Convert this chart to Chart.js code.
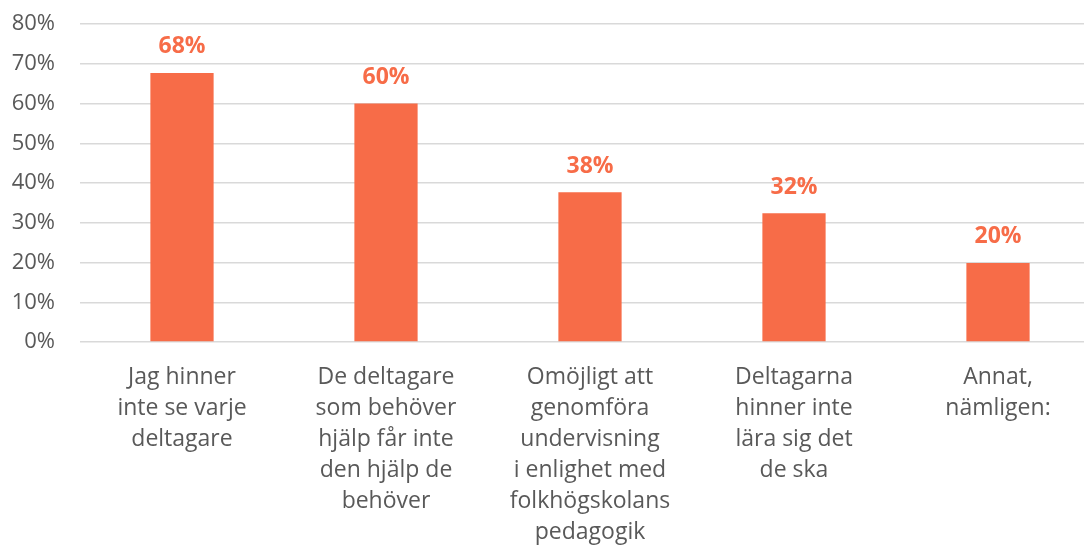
<!DOCTYPE html>
<html>
<head>
<meta charset="utf-8">
<script src="https://cdn.jsdelivr.net/npm/chart.js@4"></script>
<style>
  html, body { margin: 0; padding: 0; background: #fff; overflow: hidden; }
  #wrap { position: absolute; left: 0; top: 0; width: 1100px; height: 548px; }
</style>
</head>
<body>
<div id="wrap"><canvas id="myChart"></canvas></div>
<script>
// kategorier (radbrytningar som i originalet)
const categories = [
  ['Jag hinner', 'inte se varje', 'deltagare'],
  ['De deltagare', 'som behöver', 'hjälp får inte', 'den hjälp de', 'behöver'],
  ['Omöjligt att', 'genomföra', 'undervisning', 'i enlighet med', 'folkhögskolans', 'pedagogik'],
  ['Deltagarna', 'hinner inte', 'lära sig det', 'de ska'],
  ['Annat,', 'nämligen:']
];
const values = [67.7, 60, 37.7, 32.4, 19.9];
const yTicks = [0, 10, 20, 30, 40, 50, 60, 70, 80];

const barColor = '#F76C48';
const textGray = '#595959';
const fontFam = '"Open Sans", "Noto Sans", sans-serif';

// etiketter ovanför staplarna
const valueLabels = {
  id: 'valueLabels',
  afterDatasetsDraw(chart) {
    const ctx = chart.ctx;
    const meta = chart.getDatasetMeta(0);
    ctx.save();
    ctx.fillStyle = barColor;
    ctx.font = 'bold 23px ' + fontFam;
    ctx.textAlign = 'center';
    ctx.textBaseline = 'middle';
    meta.data.forEach((bar, i) => {
      ctx.fillText(Math.round(values[i]) + '%', bar.x, bar.y - 26);
    });
    ctx.restore();
  }
};

const chartElement = document.getElementById('myChart');
new Chart(chartElement, {
  type: 'bar',
  data: {
    labels: categories,
    datasets: [{
      data: values,
      backgroundColor: barColor,
      borderWidth: 0,
      barPercentage: 0.62,
      categoryPercentage: 0.5
    }]
  },
  options: {
    responsive: true,
    maintainAspectRatio: false,
    animation: false,
    layout: { padding: { top: 24, right: 0, left: 0, bottom: 0 } },
    plugins: {
      legend: { display: false },
      tooltip: { enabled: false }
    },
    scales: {
      x: {
        grid: { display: false, drawTicks: false },
        border: { display: false },
        ticks: {
          color: textGray,
          font: { family: fontFam, size: 23, lineHeight: 1.35 },
          padding: 20,
          maxRotation: 0,
          autoSkip: false
        },
        afterFit(scale) { scale.height = 206; }
      },
      y: {
        min: 0,
        max: 80,
        afterBuildTicks(scale) { scale.ticks = yTicks.map(v => ({ value: v })); },
        grid: { color: '#d9d9d9', lineWidth: 1.5, drawTicks: false },
        border: { display: false },
        ticks: {
          color: textGray,
          font: { family: fontFam, size: 22 },
          padding: 25,
          callback: v => v + '%'
        },
        afterFit(scale) {
          scale.width = 80;
          // tick-padding ska inte trycka ner diagrammet
          scale.paddingTop = 12;
          scale.paddingBottom = 12;
        }
      }
    }
  },
  plugins: [valueLabels]
});
</script>
</body>
</html>
